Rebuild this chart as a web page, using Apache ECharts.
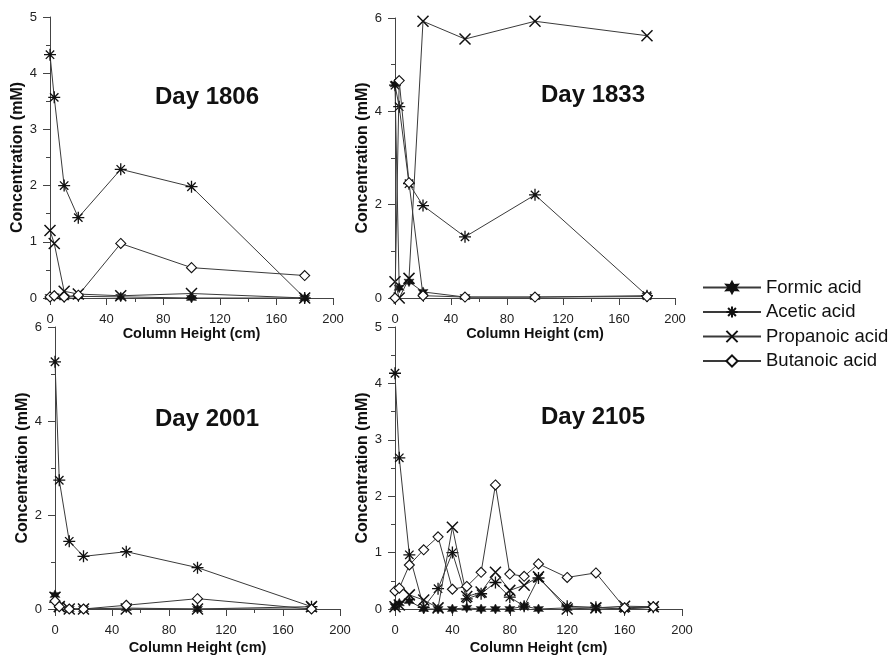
<!DOCTYPE html>
<html>
<head>
<meta charset="utf-8">
<script src="https://cdn.jsdelivr.net/npm/echarts@6/dist/echarts.min.js"></script>
<style>
html,body{margin:0;padding:0;background:#fff;}
#chart{width:890px;height:656px;}
</style>
</head>
<body>
<div id="chart"></div>
<script>
// ---- data ----
const seriesNames = ['Formic acid', 'Acetic acid', 'Propanoic acid', 'Butanoic acid'];
const panelTitles = ['Day 1806', 'Day 1833', 'Day 2001', 'Day 2105'];
const xTicks = [0, 40, 80, 120, 160, 200];

const height1806 = [0, 3, 10, 20, 50, 100, 180];
const formic1806 = [0.02, 0.03, 0.01, 0.03, 0.02, 0, 0];
const acetic1806 = [4.33, 3.57, 2.0, 1.43, 2.29, 1.98, 0];
const propanoic1806 = [1.2, 0.97, 0.12, 0.07, 0.04, 0.08, 0];
const butanoic1806 = [0.02, 0.04, 0.02, 0.05, 0.97, 0.54, 0.4];

const height1833 = [0, 3, 10, 20, 50, 100, 180];
const formic1833 = [4.58, 0.22, 0.35, 0.13, 0.02, 0.02, 0.05];
const acetic1833 = [4.56, 4.1, 2.45, 1.98, 1.31, 2.21, 0.05];
const propanoic1833 = [0.35, 0, 0.42, 5.93, 5.55, 5.93, 5.62];
const butanoic1833 = [0, 4.66, 2.47, 0.05, 0.02, 0.02, 0.03];

const height2001 = [0, 3, 10, 20, 50, 100, 180];
const formic2001 = [0.3, 0.08, 0, 0, 0.02, 0, 0];
const acetic2001 = [5.26, 2.74, 1.44, 1.12, 1.22, 0.88, 0.05];
const propanoic2001 = [0.25, 0.05, 0, 0, 0, 0, 0.05];
const butanoic2001 = [0.17, 0.05, 0, 0, 0.08, 0.22, 0];

const height2105 = [0, 3, 10, 20, 30, 40, 50, 60, 70, 80, 90, 100, 120, 140, 160, 180];
const formic2105 = [0.05, 0.1, 0.14, 0, 0, 0, 0.02, 0, 0, 0, 0.05, 0, 0.02, 0.02, 0, 0.03];
const acetic2105 = [4.18, 2.68, 0.96, 0.03, 0.36, 1.0, 0.18, 0.27, 0.47, 0.21, 0.05, 0.55, 0.05, 0.03, 0.01, 0.03];
const propanoic2105 = [0.04, 0.07, 0.25, 0.16, 0.02, 1.45, 0.22, 0.3, 0.65, 0.33, 0.42, 0.57, 0, 0.02, 0.05, 0.04];
const butanoic2105 = [0.32, 0.37, 0.78, 1.05, 1.28, 0.35, 0.4, 0.65, 2.2, 0.62, 0.58, 0.8, 0.56, 0.64, 0.02, 0.04];

const yMax = [5, 6, 6, 5];
const yStep = [1, 2, 2, 1];

// ---- build ----
const panels = [
  [height1806, [formic1806, acetic1806, propanoic1806, butanoic1806]],
  [height1833, [formic1833, acetic1833, propanoic1833, butanoic1833]],
  [height2001, [formic2001, acetic2001, propanoic2001, butanoic2001]],
  [height2105, [formic2105, acetic2105, propanoic2105, butanoic2105]]
];

const FONT = "'Liberation Sans', Arial, Helvetica, sans-serif";
const grids = [
  {left: 50, top: 17, width: 283, height: 281},
  {left: 395, top: 18, width: 280, height: 280},
  {left: 55, top: 327, width: 285, height: 285},
  {left: 395, top: 327, width: 287, height: 285}
];
const yNameGap = [17, 24, 23, 24];
const xNameGap = [28, 28, 31, 31];
const titlePos = [[207, 97], [593, 95], [207, 419], [593, 417]];

const markerStyle = {
  'Formic acid': {symbol: 'path://M5,0 L6.3,2.8 L9.3,2.5 L7.5,5 L9.3,7.5 L6.3,7.2 L5,10 L3.7,7.2 L0.7,7.5 L2.5,5 L0.7,2.5 L3.7,2.8 Z', size: 10, itemStyle: {color: '#111', borderColor: '#111', borderWidth: 0.5}},
  'Acetic acid': {symbol: 'path://M5,0 L5,10 M0,5 L10,5 M1.5,1.5 L8.5,8.5 M8.5,1.5 L1.5,8.5', size: 12, itemStyle: {color: 'none', borderColor: '#111', borderWidth: 1.3}},
  'Propanoic acid': {symbol: 'path://M0,0 L10,10 M10,0 L0,10', size: 11, itemStyle: {color: 'none', borderColor: '#111', borderWidth: 1.5}},
  'Butanoic acid': {symbol: 'diamond', size: 10, itemStyle: {color: '#fff', borderColor: '#111', borderWidth: 1.1}}
};

const axisLine = {show: true, lineStyle: {color: '#444', width: 1}};
const xAxes = [], yAxes = [], series = [], graphics = [];
grids.forEach((g, i) => {
  xAxes.push({
    type: 'value', gridIndex: i, min: xTicks[0], max: xTicks[xTicks.length - 1], interval: xTicks[1] - xTicks[0],
    name: 'Column Height (cm)', nameLocation: 'middle', nameGap: xNameGap[i],
    nameTextStyle: {fontFamily: FONT, fontWeight: 'bold', fontSize: 14.5, color: '#111'},
    axisLine: axisLine, axisTick: {show: true, length: 7, lineStyle: {color: '#444'}},
    minorTick: {show: true, splitNumber: 2, length: 4, lineStyle: {color: '#444'}},
    splitLine: {show: false}, minorSplitLine: {show: false},
    axisLabel: {fontFamily: FONT, fontSize: 13, color: '#222', margin: 15}
  });
  yAxes.push({
    type: 'value', gridIndex: i, min: 0, max: yMax[i], interval: yStep[i],
    name: 'Concentration (mM)', nameLocation: 'middle', nameGap: yNameGap[i], nameRotate: 90,
    nameTextStyle: {fontFamily: FONT, fontWeight: 'bold', fontSize: 16, color: '#111'},
    axisLine: axisLine, axisTick: {show: true, length: 7, lineStyle: {color: '#444'}},
    minorTick: {show: true, splitNumber: 2, length: 4, lineStyle: {color: '#444'}},
    splitLine: {show: false}, minorSplitLine: {show: false},
    axisLabel: {fontFamily: FONT, fontSize: 13, color: '#222', margin: 13}
  });
  const [xs, ys] = panels[i];
  seriesNames.forEach((name, k) => {
    const m = markerStyle[name];
    series.push({
      type: 'line', name: name, xAxisIndex: i, yAxisIndex: i,
      data: xs.map((x, j) => [x, ys[k][j]]),
      symbol: m.symbol, symbolSize: m.size, showAllSymbol: true,
      itemStyle: m.itemStyle,
      lineStyle: {color: '#3a3a3a', width: 1},
      emphasis: {disabled: true}, animation: false, z: 2 + k
    });
  });
  graphics.push({
    type: 'text', x: titlePos[i][0], y: titlePos[i][1],
    style: {text: panelTitles[i], fontFamily: FONT, fontWeight: 'bold', fontSize: 24, fill: '#111', textAlign: 'center', textVerticalAlign: 'middle'}
  });
});

const chart = echarts.init(document.getElementById('chart'), null, {renderer: 'canvas'});
chart.setOption({
  backgroundColor: '#fff',
  animation: false,
  grid: grids,
  xAxis: xAxes,
  yAxis: yAxes,
  series: series,
  graphic: graphics,
  legend: {
    data: seriesNames, orient: 'vertical', left: 697, top: 273,
    itemWidth: 58, itemHeight: 14, itemGap: 5.5,
    textStyle: {fontFamily: FONT, fontSize: 18.5, color: '#111'},
    selectedMode: false
  }
});
</script>
</body>
</html>
